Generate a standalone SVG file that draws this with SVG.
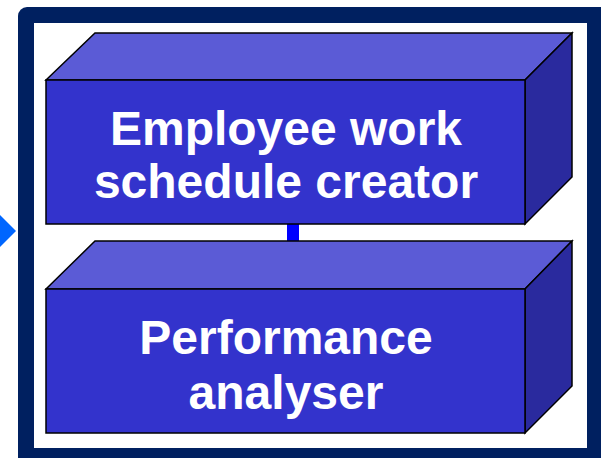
<svg xmlns="http://www.w3.org/2000/svg" width="601" height="458" viewBox="0 0 601 458">
<style>
.front{fill:#3333CC;stroke:#000;stroke-width:1.5}
.top{fill:#5B5BD6;stroke:#000;stroke-width:1.5}
.side{fill:#2A2A9E;stroke:#000;stroke-width:1.5}
.lbl{font-family:"Liberation Sans",Arial,sans-serif;font-weight:bold;font-size:48px;fill:#fff;text-anchor:middle}
</style>
<rect x="0" y="0" width="601" height="458" fill="#fff"/>
<polygon points="0,215 16,231 0,247" fill="#0066FF"/>
<rect x="18" y="7" width="600" height="470" rx="9" fill="#002060"/>
<rect x="34" y="23" width="553" height="425" fill="#fff"/>
<g id="connectors">
<rect x="287" y="224" width="12" height="17" fill="#0000FF"/>
</g>
<g id="node1">
<polygon class="top" points="46,80 95,33 572,33 525,80"/>
<polygon class="side" points="525,80 572,33 572,177 525,224"/>
<rect class="front" x="46" y="80" width="479" height="144"/>
<text class="lbl" x="286" y="145">Employee work</text>
<text class="lbl" x="286" y="198">schedule creator</text>
</g>
<g id="node2">
<polygon class="top" points="46,289 95,241 572,241 525,289"/>
<polygon class="side" points="525,289 572,241 572,386 525,433"/>
<rect class="front" x="46" y="289" width="479" height="144"/>
<text class="lbl" x="286" y="354">Performance</text>
<text class="lbl" x="286" y="409">analyser</text>
</g>
</svg>
